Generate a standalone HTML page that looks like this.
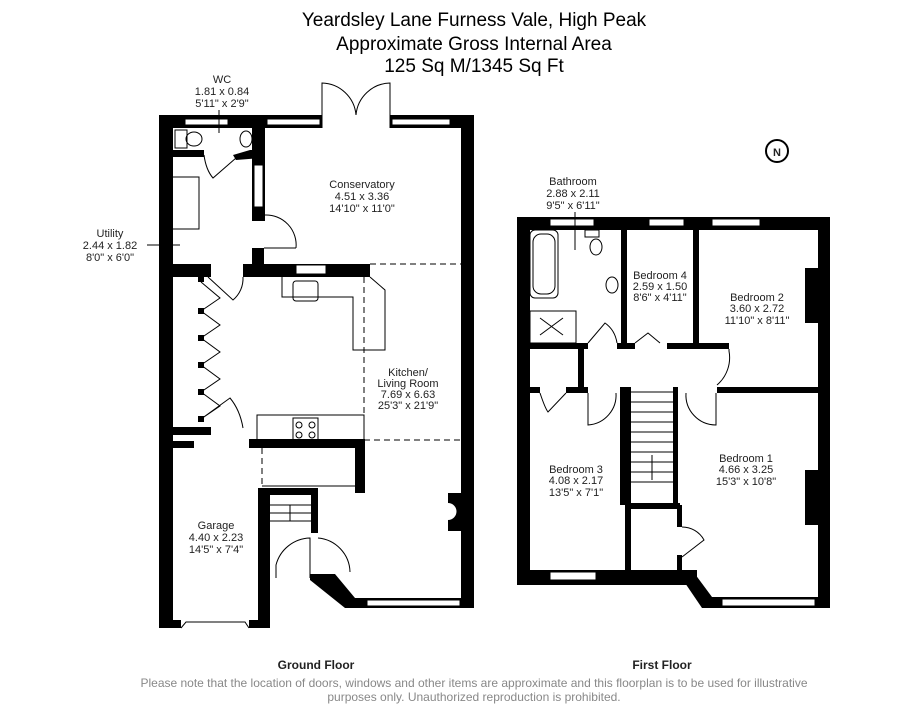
<!DOCTYPE html>
<html><head><meta charset="utf-8"><style>
html,body{margin:0;padding:0;background:#fff;}
svg{display:block;font-family:"Liberation Sans","DejaVu Sans",sans-serif;}
.t{font-size:11px;fill:#222;text-anchor:middle;}
.w{fill:#000;}
.win{fill:#fff;stroke:#000;stroke-width:1;}
.l{fill:none;stroke:#000;stroke-width:1;}
.d{fill:none;stroke:#000;stroke-width:1;stroke-dasharray:6,4;}
</style></head><body>
<svg width="924" height="714" viewBox="0 0 924 714" xmlns="http://www.w3.org/2000/svg">
<g class="t" style="font-size:19px;fill:#000">
<text x="474" y="26">Yeardsley Lane Furness Vale, High Peak</text>
<text x="474" y="50">Approximate Gross Internal Area</text>
<text x="474" y="72">125 Sq M/1345 Sq Ft</text>
</g>
<circle cx="777" cy="151" r="11" fill="#fff" stroke="#000" stroke-width="2"/>
<text x="777" y="156" class="t" style="font-size:11px;font-weight:bold">N</text>

<g>
<rect class="w" x="159" y="115" width="14" height="513"/>
<rect class="w" x="159" y="115" width="163" height="13"/>
<rect class="w" x="390" y="115" width="84" height="13"/>
<rect class="w" x="461" y="115" width="13" height="493"/>
<rect class="win" x="185" y="119" width="43" height="6"/>
<rect class="win" x="267" y="119" width="53" height="6"/>
<rect class="win" x="392" y="119" width="58" height="6"/>
<path class="l" d="M322 128 V83 A35 35 0 0 1 356 115 M390 128 V83 A35 35 0 0 0 356 115"/>
<rect class="w" x="172" y="150" width="32" height="7"/>
<path class="w" d="M233 155 L250 150 L262 150 L262 158 L236 160 Z"/>
<path class="l" d="M204 155 Q206 170 213 178 L236 158"/>
<rect class="l" x="175" y="130" width="12" height="18"/>
<ellipse class="l" cx="194" cy="139" rx="8" ry="7"/>
<ellipse class="l" cx="246" cy="139" rx="6" ry="8"/>
<rect class="w" x="252" y="128" width="13" height="93"/>
<rect class="win" x="254" y="165" width="9" height="42"/>
<rect class="l" x="172" y="177" width="27" height="52"/>
<path class="l" d="M265 215 A30 30 0 0 1 296 248"/>
<rect class="w" x="252" y="248" width="12" height="18"/>
<line class="l" x1="264" y1="248" x2="296" y2="248"/>
<rect class="w" x="159" y="264" width="52" height="13"/>
<rect class="w" x="243" y="264" width="127" height="13"/>
<rect class="win" x="296" y="265" width="30" height="9"/>
<path class="l" d="M243 277 A28 28 0 0 1 233 300 L208 277"/>
<line class="d" x1="370" y1="264" x2="461" y2="264"/>
<path class="l" d="M282 277 V297 H353 V350 H385 V290 L370 277"/>
<rect class="l" x="293" y="281" width="25" height="20" rx="3"/>
<line class="d" x1="364" y1="277" x2="364" y2="437"/>
<g class="w">
<rect x="198" y="276" width="6" height="6"/><rect x="198" y="308" width="6" height="6"/><rect x="198" y="335" width="6" height="6"/><rect x="198" y="362" width="6" height="6"/><rect x="198" y="389" width="6" height="6"/><rect x="198" y="416" width="6" height="6"/>
</g>
<path class="l" d="M201 282 L220 298 L201 311 L220 325 L201 338 L220 352 L201 365 L220 379 L201 392 L220 406 L201 419 L230 398 Q240 410 243 428"/>
<rect class="w" x="159" y="427" width="52" height="8"/>
<rect class="w" x="172" y="441" width="22" height="7"/>
<rect class="w" x="249" y="439" width="116" height="9"/>
<rect class="l" x="257" y="415" width="107" height="25"/>
<rect class="l" x="293" y="418" width="25" height="22"/>
<g class="l"><circle cx="299" cy="425" r="3"/><circle cx="312" cy="425" r="3"/><circle cx="299" cy="435" r="3"/><circle cx="312" cy="435" r="3"/></g>
<line class="d" x1="364" y1="440" x2="461" y2="440"/>
<rect class="w" x="258" y="488" width="12" height="140"/>
<line class="d" x1="262" y1="448" x2="262" y2="488"/>
<line class="l" x1="262" y1="486" x2="355" y2="486"/>
<rect class="w" x="355" y="448" width="10" height="45"/>
<rect class="w" x="262" y="488" width="56" height="7"/>
<rect class="w" x="311" y="488" width="7" height="45"/>
<g class="l"><line x1="270" y1="505" x2="311" y2="505"/><line x1="270" y1="513" x2="311" y2="513"/><line x1="270" y1="521" x2="311" y2="521"/><line x1="290" y1="521" x2="290" y2="505"/></g>
<path class="l" d="M276 578 V565 A36 36 0 0 1 310 538 V578 M318 538 A35 35 0 0 1 350 572"/>
<rect class="w" x="159" y="620" width="22" height="8"/>
<rect class="w" x="249" y="620" width="21" height="8"/>
<path class="l" d="M181 628 L186 622 H245 L249 628"/>
<path class="w" d="M310 574 H335 L355 598 L365 598 L365 608 L345 608 L310 580 Z"/>
<rect class="w" x="345" y="598" width="129" height="10"/>
<rect class="win" x="367" y="600" width="93" height="6"/>
<path class="w" d="M448 493 H462 V531 H448 V520 A8 8 0 0 0 448 503 Z"/>
</g>

<g>
<rect class="w" x="517" y="217" width="13" height="368"/>
<rect class="w" x="517" y="217" width="313" height="13"/>
<rect class="w" x="818" y="217" width="12" height="391"/>
<rect class="win" x="550" y="219" width="44" height="7"/>
<rect class="win" x="649" y="219" width="35" height="7"/>
<rect class="win" x="712" y="219" width="48" height="7"/>
<rect class="w" x="517" y="570" width="180" height="15"/>
<rect class="win" x="550" y="572" width="46" height="8"/>
<path class="w" d="M692 570 L712 597 V608 H702 L683 580 Z"/>
<rect class="w" x="712" y="597" width="118" height="11"/>
<rect class="win" x="722" y="599" width="93" height="7"/>
<rect class="w" x="621" y="230" width="6" height="118"/>
<rect class="w" x="693" y="230" width="6" height="118"/>
<rect class="w" x="530" y="343" width="58" height="6"/>
<rect class="w" x="617" y="343" width="18" height="6"/>
<rect class="w" x="667" y="343" width="62" height="6"/>
<rect class="w" x="717" y="387" width="113" height="6"/>
<rect class="w" x="517" y="387" width="23" height="6"/>
<rect class="w" x="566" y="387" width="22" height="6"/>
<rect class="w" x="578" y="349" width="6" height="40"/>
<rect class="w" x="620" y="387" width="11" height="118"/>
<rect class="w" x="673" y="387" width="5" height="118"/>
<rect class="w" x="625" y="503" width="55" height="6"/>
<rect class="w" x="625" y="505" width="6" height="68"/>
<rect class="w" x="677" y="505" width="5" height="22"/>
<rect class="w" x="677" y="555" width="5" height="17"/>
<g class="l">
<line x1="631" y1="392" x2="673" y2="392"/><line x1="631" y1="402" x2="673" y2="402"/><line x1="631" y1="412" x2="673" y2="412"/><line x1="631" y1="422" x2="673" y2="422"/><line x1="631" y1="432" x2="673" y2="432"/><line x1="631" y1="442" x2="673" y2="442"/><line x1="631" y1="452" x2="673" y2="452"/><line x1="631" y1="462" x2="673" y2="462"/><line x1="631" y1="472" x2="673" y2="472"/><line x1="631" y1="482" x2="673" y2="482"/><line x1="652" y1="455" x2="652" y2="480"/>
<path d="M682 527 A25 25 0 0 1 704 540 L682 557"/>
<path d="M588 343 L605 323 Q615 330 617 343"/>
<path d="M635 343 L648 333 L660 343"/>
<path d="M729 349 V351 A36 36 0 0 1 717 385"/>
<path d="M540 393 Q545 408 548 412 L566 393"/>
<path d="M588 393 V425 A30 30 0 0 0 616 393"/>
<path d="M686 393 A30 30 0 0 0 716 425 V393"/>
<rect x="530" y="230" width="28" height="68" rx="5"/>
<rect x="533" y="234" width="22" height="60" rx="8"/>
<rect x="530" y="311" width="46" height="32"/>
<line x1="540" y1="318" x2="563" y2="335"/><line x1="563" y1="318" x2="540" y2="335"/>
<rect x="585" y="230" width="14" height="7"/>
<ellipse cx="596" cy="247" rx="6" ry="8"/>
<ellipse cx="612" cy="285" rx="6" ry="8"/>
</g>
<rect class="w" x="805" y="268" width="13" height="55"/>
<rect class="w" x="805" y="470" width="13" height="55"/>
</g>

<g class="t">
<text x="222" y="83">WC</text><text x="222" y="95">1.81 x 0.84</text><text x="222" y="107">5'11" x 2'9"</text>
<line class="l" x1="219" y1="110" x2="219" y2="133"/>
<text x="110" y="237">Utility</text><text x="110" y="249">2.44 x 1.82</text><text x="110" y="261">8'0" x 6'0"</text>
<line class="l" x1="147" y1="245" x2="180" y2="245"/>
<text x="362" y="188">Conservatory</text><text x="362" y="200">4.51 x 3.36</text><text x="362" y="212">14'10" x 11'0"</text>
<text x="408" y="376">Kitchen/</text><text x="408" y="387">Living Room</text><text x="408" y="398">7.69 x 6.63</text><text x="408" y="409">25'3" x 21'9"</text>
<text x="216" y="529">Garage</text><text x="216" y="541">4.40 x 2.23</text><text x="216" y="553">14'5" x 7'4"</text>
<text x="573" y="185">Bathroom</text><text x="573" y="197">2.88 x 2.11</text><text x="573" y="209">9'5" x 6'11"</text>
<line class="l" x1="575" y1="212" x2="575" y2="250"/>
<text x="660" y="279">Bedroom 4</text><text x="660" y="290">2.59 x 1.50</text><text x="660" y="301">8'6" x 4'11"</text>
<text x="757" y="301">Bedroom 2</text><text x="757" y="312">3.60 x 2.72</text><text x="757" y="324">11'10" x 8'11"</text>
<text x="746" y="462">Bedroom 1</text><text x="746" y="473">4.66 x 3.25</text><text x="746" y="485">15'3" x 10'8"</text>
<text x="576" y="473">Bedroom 3</text><text x="576" y="484">4.08 x 2.17</text><text x="576" y="496">13'5" x 7'1"</text>
<text x="316" y="669" style="font-weight:bold;font-size:12px">Ground Floor</text>
<text x="662" y="669" style="font-weight:bold;font-size:12px">First Floor</text>
<text x="474" y="687" style="fill:#888;font-size:12px">Please note that the location of doors, windows and other items are approximate and this floorplan is to be used for illustrative</text>
<text x="474" y="701" style="fill:#888;font-size:12px">purposes only. Unauthorized reproduction is prohibited.</text>
</g>
</svg>
</body></html>
